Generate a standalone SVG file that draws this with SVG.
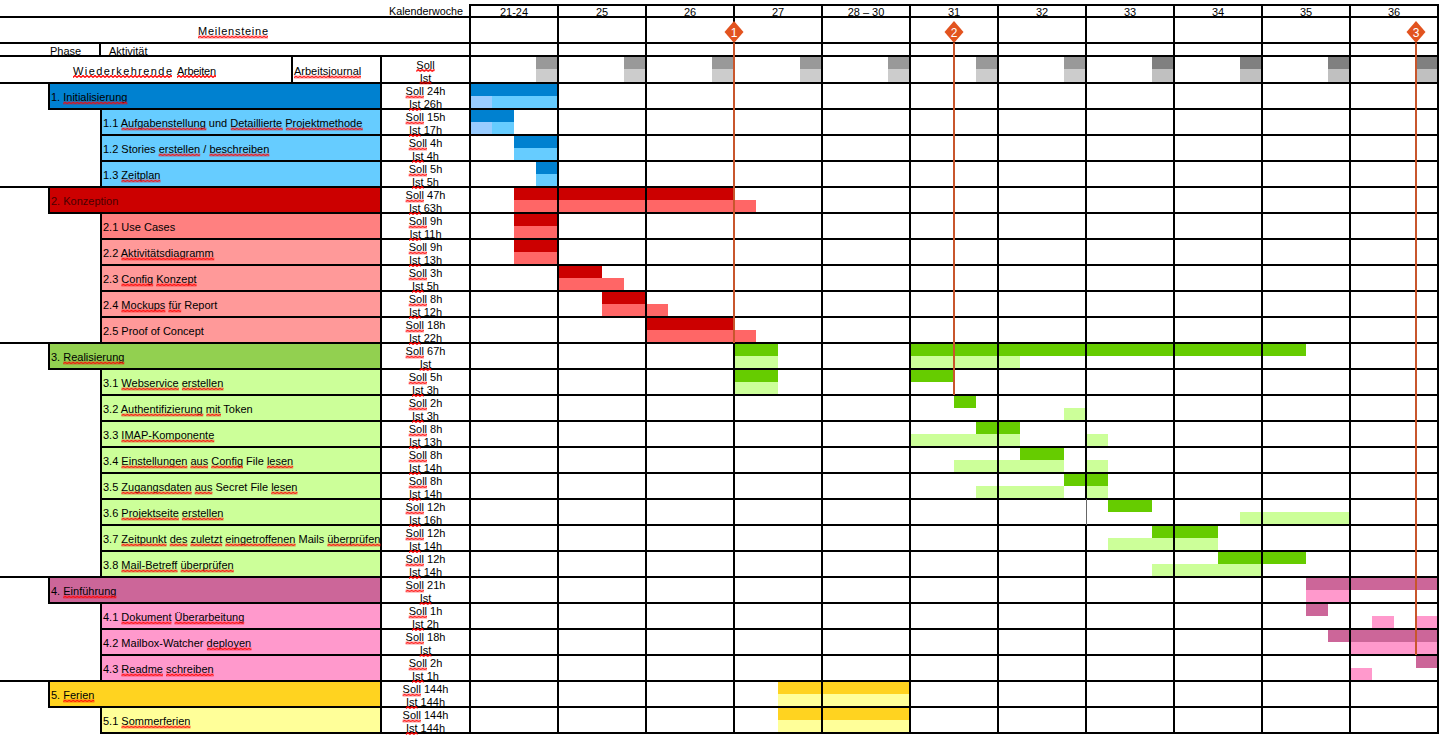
<svg xmlns="http://www.w3.org/2000/svg" width="1445" height="742" viewBox="0 0 1445 742">
<defs>
<style>
text{font-family:"Liberation Sans",Arial,sans-serif;font-size:11px;fill:#000}
.c{text-anchor:middle}
.sq{fill:url(#wv)}
.ln{fill:none;stroke:#000;stroke-width:2;stroke-linecap:square}
.ms{fill:none;stroke:#c8562c;stroke-width:2}
.dia{fill:#e2531f}
.num{fill:#fff;font-size:12px;text-anchor:middle}
.gd{fill:#999999}.gl{fill:#cccccc}.gd2{fill:#808080}.gl2{fill:#c0c0c0}
.b1{fill:#0081d0}.b1l{fill:#66ccff}.b1x{fill:#99ccff}
.b2{fill:#cc0000}.b2l{fill:#ff6666}.c2a{fill:#ff8080}.c2b{fill:#ff9999}
.p3{fill:#92d050}.b3{fill:#66cc00}.b3l{fill:#ccff99}
.b4{fill:#cc6699}.b4l{fill:#ff99cc}
.b5{fill:#ffd320}.b5l{fill:#ffff99}
</style>
<!-- red wavy spell-check underline -->
<pattern id="wv" width="4" height="3" patternUnits="userSpaceOnUse">
<path d="M0 2.5L2 0.5L4 2.5" fill="none" stroke="#ff0000" stroke-width="1.3"/>
</pattern>
</defs>
<rect width="1445" height="742" fill="#fff"/>

<!-- recurring work markers in the header row -->
<g id="header-blocks">
<rect class="gd" x="536" y="56" width="22" height="13.5"/><rect class="gl" x="536" y="69.5" width="22" height="13.5"/>
<rect class="gd" x="624" y="56" width="22" height="13.5"/><rect class="gl" x="624" y="69.5" width="22" height="13.5"/>
<rect class="gd" x="712" y="56" width="22" height="13.5"/><rect class="gl" x="712" y="69.5" width="22" height="13.5"/>
<rect class="gd" x="800" y="56" width="22" height="13.5"/><rect class="gl" x="800" y="69.5" width="22" height="13.5"/>
<rect class="gd" x="888" y="56" width="22" height="13.5"/><rect class="gl" x="888" y="69.5" width="22" height="13.5"/>
<rect class="gd" x="976" y="56" width="22" height="13.5"/><rect class="gl" x="976" y="69.5" width="22" height="13.5"/>
<rect class="gd" x="1064" y="56" width="22" height="13.5"/><rect class="gl" x="1064" y="69.5" width="22" height="13.5"/>
<rect class="gd2" x="1152" y="56" width="22" height="13.5"/><rect class="gl2" x="1152" y="69.5" width="22" height="13.5"/>
<rect class="gd2" x="1240" y="56" width="22" height="13.5"/><rect class="gl2" x="1240" y="69.5" width="22" height="13.5"/>
<rect class="gd2" x="1328" y="56" width="22" height="13.5"/><rect class="gl2" x="1328" y="69.5" width="22" height="13.5"/>
<rect class="gd2" x="1416" y="56" width="22" height="13.5"/><rect class="gl2" x="1416" y="69.5" width="22" height="13.5"/>
</g>

<!-- task rows: label cell + planned (Soll, upper half) and actual (Ist, lower half) bars -->
<g id="t1"><rect class="b1" x="49" y="83" width="332" height="26"/>
<rect class="b1" x="470" y="83" width="88" height="13"/><rect class="b1x" x="470" y="96" width="22" height="13"/><rect class="b1l" x="492" y="96" width="66" height="13"/></g>
<g id="t1-1"><rect class="b1l" x="101" y="109" width="280" height="26"/>
<rect class="b1" x="470" y="109" width="44" height="13"/><rect class="b1x" x="470" y="122" width="22" height="13"/><rect class="b1l" x="492" y="122" width="22" height="13"/></g>
<g id="t1-2"><rect class="b1l" x="101" y="135" width="280" height="26"/>
<rect class="b1" x="514" y="135" width="44" height="13"/><rect class="b1l" x="514" y="148" width="44" height="13"/></g>
<g id="t1-3"><rect class="b1l" x="101" y="161" width="280" height="26"/>
<rect class="b1" x="536" y="161" width="22" height="13"/><rect class="b1l" x="536" y="174" width="22" height="13"/></g>

<g id="t2"><rect class="b2" x="49" y="187" width="332" height="26"/>
<rect class="b2" x="514" y="187" width="220" height="13"/><rect class="b2l" x="514" y="200" width="242" height="13"/></g>
<g id="t2-1"><rect class="c2a" x="101" y="213" width="280" height="26"/>
<rect class="b2" x="514" y="213" width="44" height="13"/><rect class="b2l" x="514" y="226" width="44" height="13"/></g>
<g id="t2-2"><rect class="c2b" x="101" y="239" width="280" height="26"/>
<rect class="b2" x="514" y="239" width="44" height="13"/><rect class="b2l" x="514" y="252" width="44" height="13"/></g>
<g id="t2-3"><rect class="c2b" x="101" y="265" width="280" height="26"/>
<rect class="b2" x="558" y="265" width="44" height="13"/><rect class="b2l" x="558" y="278" width="66" height="13"/></g>
<g id="t2-4"><rect class="c2b" x="101" y="291" width="280" height="26"/>
<rect class="b2" x="602" y="291" width="44" height="13"/><rect class="b2l" x="602" y="304" width="66" height="13"/></g>
<g id="t2-5"><rect class="c2b" x="101" y="317" width="280" height="26"/>
<rect class="b2" x="646" y="317" width="88" height="13"/><rect class="b2l" x="646" y="330" width="110" height="13"/></g>

<g id="t3"><rect class="p3" x="49" y="343" width="332" height="26"/>
<rect class="b3" x="734" y="343" width="44" height="13"/><rect class="b3" x="910" y="343" width="396" height="13"/>
<rect class="b3l" x="734" y="356" width="44" height="13"/><rect class="b3l" x="910" y="356" width="110" height="13"/></g>
<g id="t3-1"><rect class="b3l" x="101" y="369" width="280" height="26"/>
<rect class="b3" x="734" y="369" width="44" height="13"/><rect class="b3" x="910" y="369" width="44" height="13"/>
<rect class="b3l" x="734" y="382" width="44" height="13"/></g>
<g id="t3-2"><rect class="b3l" x="101" y="395" width="280" height="26"/>
<rect class="b3" x="954" y="395" width="22" height="13"/><rect class="b3l" x="1064" y="408" width="22" height="13"/></g>
<g id="t3-3"><rect class="b3l" x="101" y="421" width="280" height="26"/>
<rect class="b3" x="976" y="421" width="44" height="13"/>
<rect class="b3l" x="910" y="434" width="110" height="13"/><rect class="b3l" x="1086" y="434" width="22" height="13"/></g>
<g id="t3-4"><rect class="b3l" x="101" y="447" width="280" height="26"/>
<rect class="b3" x="1020" y="447" width="44" height="13"/>
<rect class="b3l" x="954" y="460" width="110" height="13"/><rect class="b3l" x="1086" y="460" width="22" height="13"/></g>
<g id="t3-5"><rect class="b3l" x="101" y="473" width="280" height="26"/>
<rect class="b3" x="1064" y="473" width="44" height="13"/>
<rect class="b3l" x="976" y="486" width="88" height="13"/><rect class="b3l" x="1086" y="486" width="22" height="13"/></g>
<g id="t3-6"><rect class="b3l" x="101" y="499" width="280" height="26"/>
<rect class="b3" x="1108" y="499" width="44" height="13"/><rect class="b3l" x="1240" y="512" width="110" height="13"/></g>
<g id="t3-7"><rect class="b3l" x="101" y="525" width="280" height="26"/>
<rect class="b3" x="1152" y="525" width="66" height="13"/><rect class="b3l" x="1108" y="538" width="110" height="13"/></g>
<g id="t3-8"><rect class="b3l" x="101" y="551" width="280" height="26"/>
<rect class="b3" x="1218" y="551" width="88" height="13"/><rect class="b3l" x="1152" y="564" width="110" height="13"/></g>

<g id="t4"><rect class="b4" x="49" y="577" width="332" height="26"/>
<rect class="b4" x="1306" y="577" width="132" height="13"/><rect class="b4l" x="1306" y="590" width="44" height="13"/></g>
<g id="t4-1"><rect class="b4l" x="101" y="603" width="280" height="26"/>
<rect class="b4" x="1306" y="603" width="22" height="13"/>
<rect class="b4l" x="1372" y="616" width="22" height="13"/><rect class="b4l" x="1416" y="616" width="22" height="13"/></g>
<g id="t4-2"><rect class="b4l" x="101" y="629" width="280" height="26"/>
<rect class="b4" x="1328" y="629" width="110" height="13"/><rect class="b4l" x="1350" y="642" width="88" height="13"/></g>
<g id="t4-3"><rect class="b4l" x="101" y="655" width="280" height="26"/>
<rect class="b4" x="1416" y="655" width="22" height="13"/><rect class="b4l" x="1350" y="668" width="22" height="13"/></g>

<g id="t5"><rect class="b5" x="49" y="681" width="332" height="26"/>
<rect class="b5" x="778" y="681" width="132" height="13"/><rect class="b5l" x="778" y="694" width="132" height="13"/></g>
<g id="t5-1"><rect class="b5l" x="101" y="707" width="280" height="26"/>
<rect class="b5" x="778" y="707" width="132" height="13"/><rect class="b5l" x="778" y="720" width="132" height="13"/></g>

<!-- table rules -->
<g id="grid">
<path class="ln" d="M470 5H1438M0 17H1438M0 43H1438M0 56H1438M0 83H1438
M49 109H1438M101 135H1438M101 161H1438M0 187H1438
M49 213H1438M101 239H1438M101 265H1438M101 291H1438M101 317H1438M0 343H1438
M49 369H1438M101 395H1438M101 421H1438M101 447H1438M101 473H1438M101 499H1438M101 525H1438M101 551H1438M0 577H1438
M49 603H1438M101 629H1438M101 655H1438M0 681H1438
M49 707H1438M101 733H1438"/>
<path class="ln" d="M470 5V733M558 5V733M646 5V733M734 5V733M822 5V733M910 5V733M998 5V733
M1086 5V499M1086 525V733M1174 5V733M1262 5V733M1350 5V733M1438 5V733
M381 56V733M292 56V83M100 43V56
M49 83V109M49 187V213M49 343V369M49 577V603M49 681V707
M101 109V187M101 213V343M101 369V577M101 603V681M101 707V733"/>
<path d="M1086.5 499V525" stroke="#666" stroke-width="1" fill="none"/>
</g>

<!-- milestones -->
<g id="milestone-1"><path class="ms" d="M734 43V343"/><path class="dia" d="M734 21L743.5 32L734 43L724.5 32Z"/><text class="num" x="734" y="36.5">1</text></g>
<g id="milestone-2"><path class="ms" d="M954 43V395"/><path class="dia" d="M954 21L963.5 32L954 43L944.5 32Z"/><text class="num" x="954" y="36.5">2</text></g>
<g id="milestone-3"><path class="ms" d="M1416 43V655"/><path class="dia" d="M1416 21L1425.5 32L1416 43L1406.5 32Z"/><text class="num" x="1416" y="36.5">3</text></g>

<!-- header texts -->
<g id="header-text">
<text x="389" y="15" font-size="10.5" textLength="74" lengthAdjust="spacingAndGlyphs">Kalenderwoche</text>
<text class="c" x="514" y="15.5">21-24</text>
<text class="c" x="602" y="15.5">25</text>
<text class="c" x="690" y="15.5">26</text>
<text class="c" x="778" y="15.5">27</text>
<text class="c" x="866" y="15.5">28 – 30</text>
<text class="c" x="954" y="15.5">31</text>
<text class="c" x="1042" y="15.5">32</text>
<text class="c" x="1130" y="15.5">33</text>
<text class="c" x="1218" y="15.5">34</text>
<text class="c" x="1306" y="15.5">35</text>
<text class="c" x="1394" y="15.5">36</text>
<text x="198" y="35" textLength="70">Meilensteine</text>
<text x="50" y="55">Phase</text>
<text x="109" y="55">Aktivität</text>
<text x="73" y="74.5" textLength="99">Wiederkehrende</text>
<text x="177" y="74.5" textLength="39">Arbeiten</text>
<text x="294" y="75">Arbeitsjournal</text>
<text class="c" x="425.5" y="68.5">Soll</text>
<text class="c" x="425.5" y="81.5">Ist</text>
</g>

<!-- task labels -->
<g id="labels">
<text x="51" y="101">1. Initialisierung</text>
<text x="103" y="127">1.1 Aufgabenstellung und Detaillierte Projektmethode</text>
<text x="103" y="153">1.2 Stories erstellen / beschreiben</text>
<text x="103" y="179">1.3 Zeitplan</text>
<text x="51" y="205" style="fill:#4a0000">2. Konzeption</text>
<text x="103" y="231">2.1 Use Cases</text>
<text x="103" y="257">2.2 Aktivitätsdiagramm</text>
<text x="103" y="283">2.3 Config Konzept</text>
<text x="103" y="309">2.4 Mockups für Report</text>
<text x="103" y="335">2.5 Proof of Concept</text>
<text x="51" y="361">3. Realisierung</text>
<text x="103" y="387">3.1 Webservice erstellen</text>
<text x="103" y="413">3.2 Authentifizierung mit Token</text>
<text x="103" y="439">3.3 IMAP-Komponente</text>
<text x="103" y="465">3.4 Einstellungen aus Config File lesen</text>
<text x="103" y="491">3.5 Zugangsdaten aus Secret File lesen</text>
<text x="103" y="517">3.6 Projektseite erstellen</text>
<text x="103" y="543">3.7 Zeitpunkt des zuletzt eingetroffenen Mails überprüfen</text>
<text x="103" y="569">3.8 Mail-Betreff überprüfen</text>
<text x="51" y="595">4. Einführung</text>
<text x="103" y="621">4.1 Dokument Überarbeitung</text>
<text x="103" y="647">4.2 Mailbox-Watcher deployen</text>
<text x="103" y="673">4.3 Readme schreiben</text>
<text x="51" y="699">5. Ferien</text>
<text x="103" y="725">5.1 Sommerferien</text>
</g>

<!-- planned / actual hours -->
<g id="hours">
<text class="c" x="425.5" y="95">Soll 24h</text><text class="c" x="425.5" y="108">Ist 26h</text>
<text class="c" x="425.5" y="121">Soll 15h</text><text class="c" x="425.5" y="134">Ist 17h</text>
<text class="c" x="425.5" y="147">Soll 4h</text><text class="c" x="425.5" y="160">Ist 4h</text>
<text class="c" x="425.5" y="173">Soll 5h</text><text class="c" x="425.5" y="186">Ist 5h</text>
<text class="c" x="425.5" y="199">Soll 47h</text><text class="c" x="425.5" y="212">Ist 63h</text>
<text class="c" x="425.5" y="225">Soll 9h</text><text class="c" x="425.5" y="238">Ist 11h</text>
<text class="c" x="425.5" y="251">Soll 9h</text><text class="c" x="425.5" y="264">Ist 13h</text>
<text class="c" x="425.5" y="277">Soll 3h</text><text class="c" x="425.5" y="290">Ist 5h</text>
<text class="c" x="425.5" y="303">Soll 8h</text><text class="c" x="425.5" y="316">Ist 12h</text>
<text class="c" x="425.5" y="329">Soll 18h</text><text class="c" x="425.5" y="342">Ist 22h</text>
<text class="c" x="425.5" y="355">Soll 67h</text><text class="c" x="425.5" y="368">Ist</text>
<text class="c" x="425.5" y="381">Soll 5h</text><text class="c" x="425.5" y="394">Ist 3h</text>
<text class="c" x="425.5" y="407">Soll 2h</text><text class="c" x="425.5" y="420">Ist 3h</text>
<text class="c" x="425.5" y="433">Soll 8h</text><text class="c" x="425.5" y="446">Ist 13h</text>
<text class="c" x="425.5" y="459">Soll 8h</text><text class="c" x="425.5" y="472">Ist 14h</text>
<text class="c" x="425.5" y="485">Soll 8h</text><text class="c" x="425.5" y="498">Ist 14h</text>
<text class="c" x="425.5" y="511">Soll 12h</text><text class="c" x="425.5" y="524">Ist 16h</text>
<text class="c" x="425.5" y="537">Soll 12h</text><text class="c" x="425.5" y="550">Ist 14h</text>
<text class="c" x="425.5" y="563">Soll 12h</text><text class="c" x="425.5" y="576">Ist 14h</text>
<text class="c" x="425.5" y="589">Soll 21h</text><text class="c" x="425.5" y="602">Ist</text>
<text class="c" x="425.5" y="615">Soll 1h</text><text class="c" x="425.5" y="628">Ist 2h</text>
<text class="c" x="425.5" y="641">Soll 18h</text><text class="c" x="425.5" y="654">Ist</text>
<text class="c" x="425.5" y="667">Soll 2h</text><text class="c" x="425.5" y="680">Ist 1h</text>
<text class="c" x="425.5" y="693">Soll 144h</text><text class="c" x="425.5" y="706">Ist 144h</text>
<text class="c" x="425.5" y="719">Soll 144h</text><text class="c" x="425.5" y="732">Ist 144h</text>
</g>

<!-- spell-check underlines -->
<g id="spelling-marks">
<rect class="sq" width="70" height="3" transform="translate(198 35.5)"/>
<rect class="sq" width="99" height="3" transform="translate(73 75)"/>
<rect class="sq" width="39" height="3" transform="translate(177 75)"/>
<rect class="sq" width="67" height="3" transform="translate(294 75.5)"/>
<rect class="sq" width="18.3" height="3" transform="translate(416.3 69)"/>
<rect class="sq" width="11.6" height="3" transform="translate(419.7 81.5)"/>

<rect class="sq" width="64.2" height="3" transform="translate(63.2 101.5)"/>
<rect class="sq" width="85" height="3" transform="translate(121.4 127.5)"/>
<rect class="sq" width="52" height="3" transform="translate(230.8 127.5)"/>
<rect class="sq" width="77" height="3" transform="translate(285.8 127.5)"/>
<rect class="sq" width="41.6" height="3" transform="translate(158.6 153.5)"/>
<rect class="sq" width="59.9" height="3" transform="translate(209.4 153.5)"/>
<rect class="sq" width="39.1" height="3" transform="translate(121.4 179.5)"/>
<rect class="sq" width="92.9" height="3" transform="translate(121.4 257.5)"/>
<rect class="sq" width="31.8" height="3" transform="translate(121.4 283.5)"/>
<rect class="sq" width="40.4" height="3" transform="translate(156.2 283.5)"/>
<rect class="sq" width="44" height="3" transform="translate(121.4 309.5)"/>
<rect class="sq" width="12.8" height="3" transform="translate(168.4 309.5)"/>
<rect class="sq" width="61.1" height="3" transform="translate(63.2 361.5)"/>
<rect class="sq" width="57.5" height="3" transform="translate(121.4 387.5)"/>
<rect class="sq" width="41.6" height="3" transform="translate(181.9 387.5)"/>
<rect class="sq" width="81.9" height="3" transform="translate(121.4 413.5)"/>
<rect class="sq" width="14.7" height="3" transform="translate(206.3 413.5)"/>
<rect class="sq" width="92.9" height="3" transform="translate(121.4 439.5)"/>
<rect class="sq" width="66" height="3" transform="translate(121.4 465.5)"/>
<rect class="sq" width="17.7" height="3" transform="translate(190.4 465.5)"/>
<rect class="sq" width="31.8" height="3" transform="translate(211.2 465.5)"/>
<rect class="sq" width="26.3" height="3" transform="translate(266.9 465.5)"/>
<rect class="sq" width="70.3" height="3" transform="translate(121.4 491.5)"/>
<rect class="sq" width="17.7" height="3" transform="translate(194.7 491.5)"/>
<rect class="sq" width="26.3" height="3" transform="translate(271.2 491.5)"/>
<rect class="sq" width="57.5" height="3" transform="translate(121.4 517.5)"/>
<rect class="sq" width="41.6" height="3" transform="translate(181.9 517.5)"/>
<rect class="sq" width="45.2" height="3" transform="translate(121.4 543.5)"/>
<rect class="sq" width="17.7" height="3" transform="translate(169.7 543.5)"/>
<rect class="sq" width="31.8" height="3" transform="translate(190.4 543.5)"/>
<rect class="sq" width="70.3" height="3" transform="translate(225.3 543.5)"/>
<rect class="sq" width="53.2" height="3" transform="translate(327.4 543.5)"/>
<rect class="sq" width="56.2" height="3" transform="translate(121.4 569.5)"/>
<rect class="sq" width="53.2" height="3" transform="translate(180.6 569.5)"/>
<rect class="sq" width="53.2" height="3" transform="translate(63.2 595.5)"/>
<rect class="sq" width="50.1" height="3" transform="translate(121.4 621.5)"/>
<rect class="sq" width="69.7" height="3" transform="translate(174.5 621.5)"/>
<rect class="sq" width="44.6" height="3" transform="translate(206.9 647.5)"/>
<rect class="sq" width="41.6" height="3" transform="translate(121.4 673.5)"/>
<rect class="sq" width="47.7" height="3" transform="translate(166 673.5)"/>
<rect class="sq" width="31.2" height="3" transform="translate(63.2 699.5)"/>
<rect class="sq" width="69.1" height="3" transform="translate(121.4 725.5)"/>

<rect class="sq" width="18.3" height="3" transform="translate(405.6 95.5)"/><rect class="sq" width="11.6" height="3" transform="translate(409 108)"/>
<rect class="sq" width="18.3" height="3" transform="translate(405.6 121.5)"/><rect class="sq" width="11.6" height="3" transform="translate(409 134)"/>
<rect class="sq" width="18.3" height="3" transform="translate(408.7 147.5)"/><rect class="sq" width="11.6" height="3" transform="translate(412 160)"/>
<rect class="sq" width="18.3" height="3" transform="translate(408.7 173.5)"/><rect class="sq" width="11.6" height="3" transform="translate(412 186)"/>
<rect class="sq" width="18.3" height="3" transform="translate(405.6 199.5)"/><rect class="sq" width="11.6" height="3" transform="translate(409 212)"/>
<rect class="sq" width="18.3" height="3" transform="translate(408.7 225.5)"/><rect class="sq" width="11.6" height="3" transform="translate(409 238)"/>
<rect class="sq" width="18.3" height="3" transform="translate(408.7 251.5)"/><rect class="sq" width="11.6" height="3" transform="translate(409 264)"/>
<rect class="sq" width="18.3" height="3" transform="translate(408.7 277.5)"/><rect class="sq" width="11.6" height="3" transform="translate(412 290)"/>
<rect class="sq" width="18.3" height="3" transform="translate(408.7 303.5)"/><rect class="sq" width="11.6" height="3" transform="translate(409 316)"/>
<rect class="sq" width="18.3" height="3" transform="translate(405.6 329.5)"/><rect class="sq" width="11.6" height="3" transform="translate(409 342)"/>
<rect class="sq" width="18.3" height="3" transform="translate(405.6 355.5)"/><rect class="sq" width="11.6" height="3" transform="translate(419.7 368)"/>
<rect class="sq" width="18.3" height="3" transform="translate(408.7 381.5)"/><rect class="sq" width="11.6" height="3" transform="translate(412 394)"/>
<rect class="sq" width="18.3" height="3" transform="translate(408.7 407.5)"/><rect class="sq" width="11.6" height="3" transform="translate(412 420)"/>
<rect class="sq" width="18.3" height="3" transform="translate(408.7 433.5)"/><rect class="sq" width="11.6" height="3" transform="translate(409 446)"/>
<rect class="sq" width="18.3" height="3" transform="translate(408.7 459.5)"/><rect class="sq" width="11.6" height="3" transform="translate(409 472)"/>
<rect class="sq" width="18.3" height="3" transform="translate(408.7 485.5)"/><rect class="sq" width="11.6" height="3" transform="translate(409 498)"/>
<rect class="sq" width="18.3" height="3" transform="translate(405.6 511.5)"/><rect class="sq" width="11.6" height="3" transform="translate(409 524)"/>
<rect class="sq" width="18.3" height="3" transform="translate(405.6 537.5)"/><rect class="sq" width="11.6" height="3" transform="translate(409 550)"/>
<rect class="sq" width="18.3" height="3" transform="translate(405.6 563.5)"/><rect class="sq" width="11.6" height="3" transform="translate(409 576)"/>
<rect class="sq" width="18.3" height="3" transform="translate(405.6 589.5)"/><rect class="sq" width="11.6" height="3" transform="translate(419.7 602)"/>
<rect class="sq" width="18.3" height="3" transform="translate(408.7 615.5)"/><rect class="sq" width="11.6" height="3" transform="translate(412 628)"/>
<rect class="sq" width="18.3" height="3" transform="translate(405.6 641.5)"/><rect class="sq" width="11.6" height="3" transform="translate(419.7 654)"/>
<rect class="sq" width="18.3" height="3" transform="translate(408.7 667.5)"/><rect class="sq" width="11.6" height="3" transform="translate(412 680)"/>
<rect class="sq" width="18.3" height="3" transform="translate(402.6 693.5)"/><rect class="sq" width="11.6" height="3" transform="translate(405.9 706)"/>
<rect class="sq" width="18.3" height="3" transform="translate(402.6 719.5)"/><rect class="sq" width="11.6" height="3" transform="translate(405.9 732)"/>
</g>
</svg>
